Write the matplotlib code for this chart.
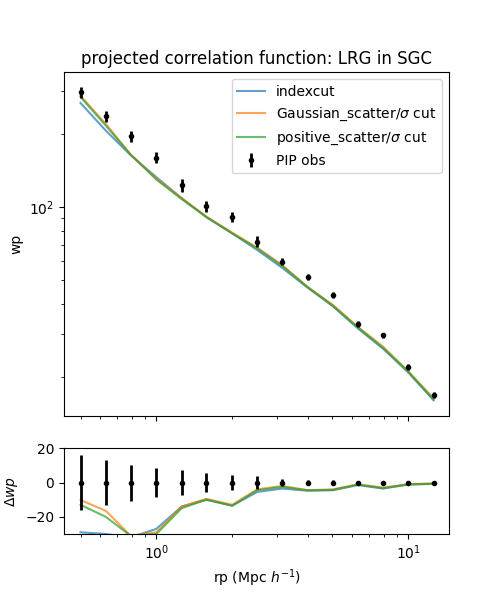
import numpy as np
import matplotlib.pyplot as plt

rp = [0.5, 0.63, 0.79, 1.0, 1.26, 1.58, 2.0, 2.51, 3.16, 3.98, 5.01, 6.31, 7.94, 10.0, 12.59]
wp_obs = [298, 237, 196, 160, 123, 101, 91.5, 72.2, 59.7, 51.4, 43.6, 33.1, 29.6, 22.0, 16.8]
wp_err = [16, 13, 10.5, 8.5, 7.3, 5.5, 4.3, 3.7, 2.0, 1.5, 1.3, 1.0, 0.8, 0.6, 0.5]

d_index = [-29, -30, -32, -27, -14, -10, -13.5, -5.5, -3.5, -4.8, -4.5, -1.5, -3.5, -1.2, -0.8]
d_gauss = [-10.2, -16.5, -31, -29, -14, -9.5, -13, -4, -2, -4.5, -4, -1, -3, -1, -0.5]
d_pos = [-13, -20, -31, -30, -15, -10, -13.5, -4.5, -2.5, -4.5, -4.3, -1.2, -3.3, -1, -0.7]

obs = np.array(wp_obs)
models = [("indexcut", d_index), (r"Gaussian_scatter/$\sigma$ cut", d_gauss),
          (r"positive_scatter/$\sigma$ cut", d_pos)]

fig = plt.figure(figsize=(5, 6), dpi=100)
ax = fig.add_axes([0.128, 0.307, 0.77, 0.573])
ax2 = fig.add_axes([0.128, 0.11, 0.77, 0.143], sharex=ax)

for name, d in models:
    ax.plot(rp, obs + np.array(d), alpha=0.7, label=name)
    ax2.plot(rp, d, alpha=0.7)
ax.errorbar(rp, wp_obs, yerr=wp_err, fmt='o', color='k', ms=3, elinewidth=2, label='PIP obs')
ax2.errorbar(rp, np.zeros(len(rp)), yerr=wp_err, fmt='o', color='k', ms=3, elinewidth=2)

ax.set_xscale('log')
ax.set_yscale('log')
ax.set_ylim(13.8, 361)
ax.set_xlim(0.43, 14.5)
ax.set_ylabel('wp')
ax.set_title('projected correlation function: LRG in SGC')
ax.legend(loc='upper right')
ax.tick_params(labelbottom=False)

ax2.set_ylim(-30, 20)
ax2.set_ylabel(r'$\Delta wp$')
ax2.set_xlabel(r'rp (Mpc $h^{-1}$)')

fig.savefig('out.png')
